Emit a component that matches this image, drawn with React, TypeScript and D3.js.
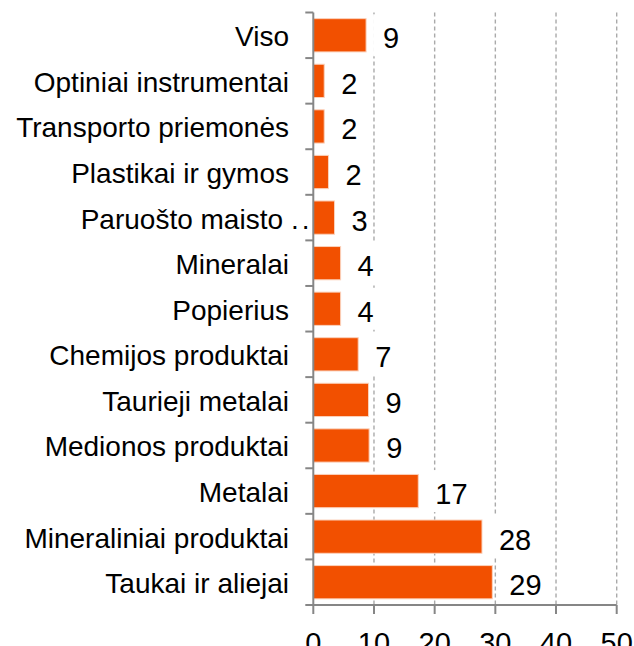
import React, { useEffect } from "react";
import { scaleBand, scaleLinear } from "d3";

const categories = [
  "Viso",
  "Optiniai instrumentai",
  "Transporto priemonės",
  "Plastikai ir gymos",
  "Paruošto maisto",
  "Mineralai",
  "Popierius",
  "Chemijos produktai",
  "Taurieji metalai",
  "Medionos produktai",
  "Metalai",
  "Mineraliniai produktai",
  "Taukai ir aliejai"
];
const truncated = [false, false, false, false, true, false, false, false, false, false, false, false, false];
const values = [8.7, 1.8, 1.8, 2.5, 3.5, 4.5, 4.5, 7.4, 9.1, 9.2, 17.3, 27.8, 29.5];
const valueLabels = ["9", "2", "2", "2", "3", "4", "4", "7", "9", "9", "17", "28", "29"];
const xTicks = [0, 10, 20, 30, 40, 50];

const FONT = "'Liberation Sans', Arial, sans-serif";

export default function App() {
  const width = 634,
    height = 646;
  const left = 313.3,
    right = 616.7,
    top = 12.5,
    bottom = 605;

  useEffect(() => {
    document.body.style.margin = "0";
  }, []);

  const x = scaleLinear().domain([0, 50]).range([left, right]);
  const y = scaleBand().domain(categories).range([top, bottom]).paddingInner(0.27).paddingOuter(0.135);
  const band = (bottom - top) / categories.length;

  return (
    <svg width={width} height={height} style={{ display: "block", fontFamily: FONT }}>
      <rect width={width} height={height} fill="#fff" />

      {/* gridlines */}
      {xTicks.slice(1).map(t => (
        <line
          key={t}
          x1={x(t)}
          x2={x(t)}
          y1={top}
          y2={bottom}
          stroke="#aaaaaa"
          strokeWidth={1.4}
          strokeDasharray="4,3"
        />
      ))}

      {/* bars */}
      {categories.map((c, i) => (
        <rect
          key={c}
          x={x(0)}
          y={y(c)}
          width={x(values[i]) - x(0)}
          height={y.bandwidth()}
          fill="#f25000"
          stroke="#fbd2bc"
          strokeWidth={1}
        />
      ))}

      {/* value labels with white boxes */}
      {categories.map((c, i) => {
        const cy = top + band * (i + 0.5);
        const tx = x(values[i]) + 17;
        const w = valueLabels[i].length * 0.556 * 29;
        return (
          <g key={c}>
            <rect x={tx - 10} y={cy - 21} width={w + 14} height={42} fill="#fff" />
            <text x={tx} y={cy + 13} fontSize={29} fill="#000">
              {valueLabels[i]}
            </text>
          </g>
        );
      })}

      {/* y axis */}
      <line x1={left} x2={left} y1={top} y2={bottom} stroke="#868686" strokeWidth={2} />
      {categories.map((c, i) => (
        <line key={c} x1={left - 8} x2={left} y1={top + band * i} y2={top + band * i} stroke="#868686" strokeWidth={2} />
      ))}
      <line x1={left - 8} x2={left} y1={bottom} y2={bottom} stroke="#868686" strokeWidth={2} />

      {/* x axis */}
      <line x1={left} x2={right} y1={bottom} y2={bottom} stroke="#868686" strokeWidth={2} />
      {xTicks.map(t => (
        <g key={t}>
          <line x1={x(t)} x2={x(t)} y1={bottom} y2={bottom + 9} stroke="#868686" strokeWidth={2} />
          <text x={x(t)} y={bottom + 48} fontSize={29} textAnchor="middle" fill="#000">
            {t}
          </text>
        </g>
      ))}

      {/* category labels */}
      {categories.map((c, i) => {
        const cy = top + band * (i + 0.5);
        return (
          <g key={c}>
            <text x={truncated[i] ? 283 : 289} y={cy + 11} fontSize={28} textAnchor="end" fill="#000">
              {c}
            </text>
            {truncated[i] && (
              <text x={291} y={cy + 11} fontSize={28} fill="#000" letterSpacing={3}>
                ..
              </text>
            )}
          </g>
        );
      })}
    </svg>
  );
}
